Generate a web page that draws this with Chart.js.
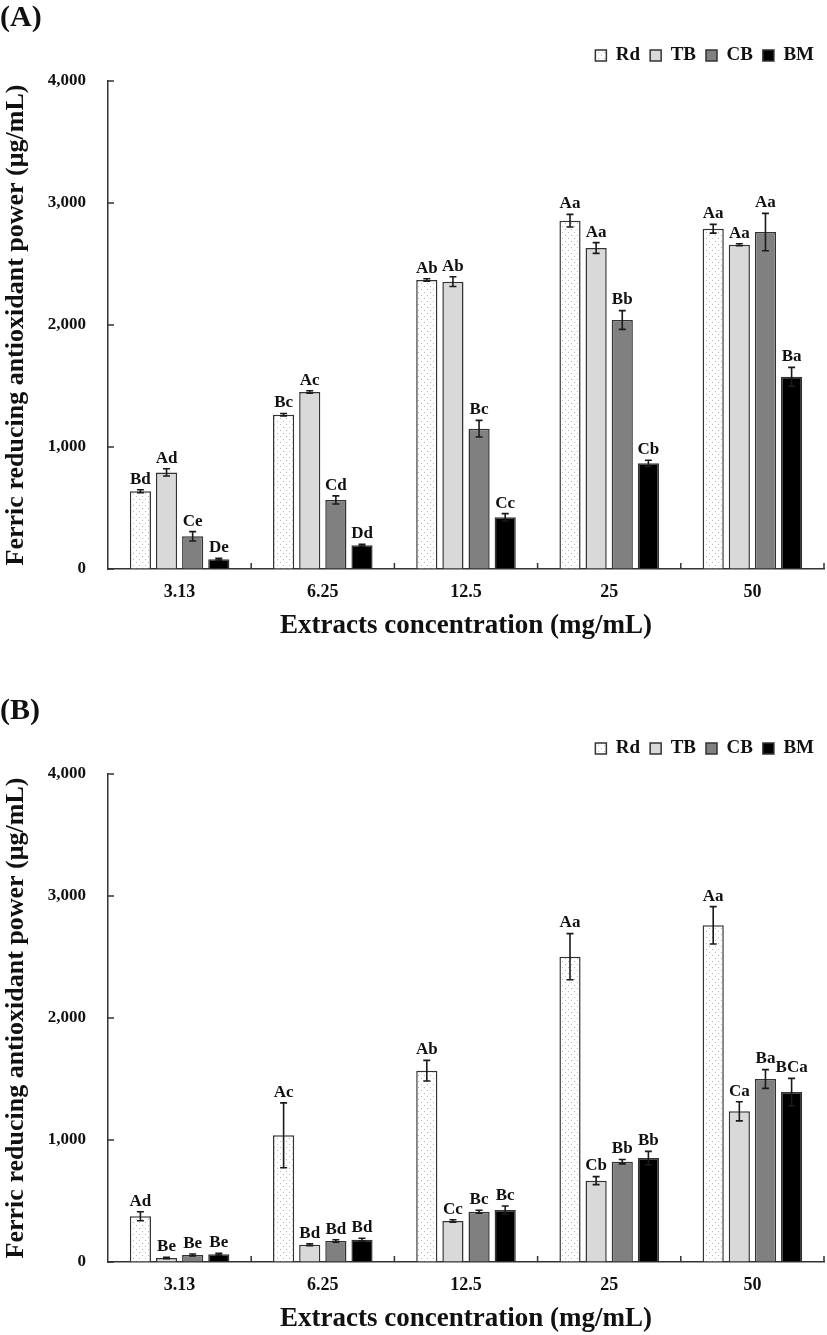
<!DOCTYPE html>
<html>
<head>
<meta charset="utf-8">
<script src="https://cdn.jsdelivr.net/npm/chart.js@4.4.1/dist/chart.umd.min.js"></script>
<style>
  html, body { margin: 0; padding: 0; background: #fff; }
  body { width: 827px; height: 1335px; position: relative; overflow: hidden; }
  .panel { position: absolute; left: 0; width: 827px; height: 642px; }
  #pA { top: 0; }
  #pB { top: 693px; }
</style>
</head>
<body>
<div class="panel" id="pA"><canvas id="cA" width="827" height="642"></canvas></div>
<div class="panel" id="pB"><canvas id="cB" width="827" height="642"></canvas></div>
<script>
// ---------- DATA ----------
const categories = ['3.13', '6.25', '12.5', '25', '50'];
const seriesNames = ['Rd', 'TB', 'CB', 'BM'];
const yTicks = [0, 1000, 2000, 3000, 4000];

// Panel (A)
const rdA = [637, 1265, 2369, 2855, 2789];
const tbA = [792, 1451, 2355, 2631, 2658];
const cbA = [268, 566, 1150, 2041, 2762];
const bmA = [79, 194, 424, 866, 1576];
const rdAerr = [12, 10, 10, 52, 36];
const tbAerr = [30, 10, 40, 44, 8];
const cbAerr = [38, 33, 68, 77, 153];
const bmAerr = [8, 8, 30, 25, 77];
const rdAlab = ['Bd', 'Bc', 'Ab', 'Aa', 'Aa'];
const tbAlab = ['Ad', 'Ac', 'Ab', 'Aa', 'Aa'];
const cbAlab = ['Ce', 'Cd', 'Bc', 'Bb', 'Aa'];
const bmAlab = ['De', 'Dd', 'Cc', 'Cb', 'Ba'];

// Panel (B)
const rdB = [375, 1038, 1568, 2503, 2760];
const tbB = [33, 142, 336, 667, 1235];
const cbB = [57, 172, 412, 822, 1500];
const bmB = [63, 183, 426, 852, 1393];
const rdBerr = [37, 266, 85, 189, 153];
const tbBerr = [6, 8, 10, 33, 78];
const cbBerr = [8, 10, 12, 18, 77];
const bmBerr = [8, 12, 33, 55, 112];
const rdBlab = ['Ad', 'Ac', 'Ab', 'Aa', 'Aa'];
const tbBlab = ['Be', 'Bd', 'Cc', 'Cb', 'Ca'];
const cbBlab = ['Be', 'Bd', 'Bc', 'Bb', 'Ba'];
const bmBlab = ['Be', 'Bd', 'Bc', 'Bb', 'BCa'];

// ---------- STYLE ----------
const FONT = "'Liberation Serif', 'Times New Roman', serif";
Chart.defaults.font.family = FONT;
Chart.defaults.color = '#111';

function dotPattern() {
  const c = document.createElement('canvas');
  c.width = 6; c.height = 6;
  const g = c.getContext('2d');
  g.fillStyle = '#ffffff';
  g.fillRect(0, 0, 6, 6);
  g.fillStyle = '#b8b8b8';
  g.fillRect(1, 1, 1, 1);
  g.fillRect(4, 4, 1, 1);
  return g.createPattern(c, 'repeat');
}
const fills = [dotPattern(), '#d9d9d9', '#808080', '#000000'];

// extra room below the legend
const legendGapPlugin = {
  id: 'legendGap',
  afterInit(chart) {
    const lg = chart.legend;
    if (lg && !lg._gapWrapped) {
      const orig = lg.fit;
      lg.fit = function () { orig.call(this); this.height += 6; };
      lg._gapWrapped = true;
    }
  }
};

const errLabelPlugin = {
  id: 'errLabel',
  afterDatasetsDraw(chart) {
    const ctx = chart.ctx;
    const ys = chart.scales.y;
    ctx.save();
    chart.data.datasets.forEach((ds, i) => {
      const meta = chart.getDatasetMeta(i);
      meta.data.forEach((bar, j) => {
        const v = ds.data[j], e = ds.err[j];
        const yT = ys.getPixelForValue(v + e);
        const yB = ys.getPixelForValue(Math.max(0, v - e));
        ctx.strokeStyle = '#1a1a1a';
        ctx.lineWidth = 1.6;
        ctx.beginPath();
        ctx.moveTo(bar.x, yT); ctx.lineTo(bar.x, yB);
        ctx.moveTo(bar.x - 3.5, yT); ctx.lineTo(bar.x + 3.5, yT);
        ctx.moveTo(bar.x - 3.5, yB); ctx.lineTo(bar.x + 3.5, yB);
        ctx.stroke();
        ctx.fillStyle = '#111';
        ctx.font = "bold 17px " + FONT;
        ctx.textAlign = 'center';
        ctx.textBaseline = 'bottom';
        ctx.fillText(ds.labelsTxt[j], bar.x, yT - 2);
      });
    });
    ctx.restore();
  }
};

const innerTicksPlugin = {
  id: 'innerTicks',
  afterDraw(chart) {
    const ctx = chart.ctx;
    const xs = chart.scales.x, ys = chart.scales.y;
    const a = chart.chartArea;
    ctx.save();
    ctx.strokeStyle = '#333';
    ctx.lineWidth = 1.5;
    ctx.beginPath();
    yTicks.forEach(t => {
      const y = ys.getPixelForValue(t);
      ctx.moveTo(a.left, y); ctx.lineTo(a.left + 6, y);
    });
    const half = (xs.getPixelForValue(1) - xs.getPixelForValue(0)) / 2;
    for (let i = 0; i < categories.length; i++) {
      const x = xs.getPixelForValue(i) + half;
      ctx.moveTo(x, a.bottom); ctx.lineTo(x, a.bottom - 6);
    }
    ctx.stroke();
    ctx.restore();
  }
};

function makeChart(id, title, vals, errs, labs) {
  const datasets = seriesNames.map((n, k) => ({
    label: n,
    data: vals[k],
    err: errs[k],
    labelsTxt: labs[k],
    backgroundColor: fills[k],
    borderColor: '#333333',
    borderWidth: 1.5,
    categoryPercentage: 0.73,
    barPercentage: 0.81
  }));
  return new Chart(document.getElementById(id), {
    type: 'bar',
    data: { labels: categories, datasets },
    plugins: [legendGapPlugin, errLabelPlugin, innerTicksPlugin],
    options: {
      responsive: false,
      animation: false,
      events: [],
      layout: { padding: { top: 0, right: 3, bottom: 0, left: 0 } },
      plugins: {
        tooltip: { enabled: false },
        title: {
          display: true, text: title, align: 'start',
          font: { size: 30, weight: 'bold', family: FONT },
          color: '#111',
          padding: { top: 0, bottom: 0 }
        },
        legend: {
          display: true, position: 'top', align: 'end',
          labels: {
            boxWidth: 11, boxHeight: 11, padding: 10,
            font: { size: 19, weight: 'bold', family: FONT },
            color: '#111'
          }
        }
      },
      scales: {
        x: {
          afterFit: s => { s.height = 73; },
          grid: { display: true, color: 'rgba(0,0,0,0)', drawTicks: false, drawOnChartArea: false },
          border: { display: true, color: '#333', width: 1.5 },
          ticks: { padding: 13, font: { size: 18, weight: 'bold', family: FONT }, color: '#111' },
          title: {
            display: true, text: 'Extracts concentration (mg/mL)',
            font: { size: 27, weight: 'bold', family: FONT }, color: '#111',
            padding: { top: 0, bottom: 0 }
          }
        },
        y: {
          min: 0, max: 4000,
          afterFit: s => { s.width = 108; },
          afterBuildTicks: s => { s.ticks = yTicks.map(v => ({ value: v })); },
          grid: { display: true, color: 'rgba(0,0,0,0)', drawTicks: false, drawOnChartArea: false },
          border: { display: true, color: '#333', width: 1.5 },
          ticks: {
            padding: 22,
            font: { size: 17, weight: 'bold', family: FONT }, color: '#111',
            callback: v => v.toLocaleString('en-US')
          },
          title: {
            display: true, text: 'Ferric reducing antioxidant power (μg/mL)',
            font: { size: 26, weight: 'bold', family: FONT }, color: '#111',
            padding: { top: 1, bottom: 0 }
          }
        }
      }
    }
  });
}

const chartA = makeChart('cA', '(A)', [rdA, tbA, cbA, bmA], [rdAerr, tbAerr, cbAerr, bmAerr], [rdAlab, tbAlab, cbAlab, bmAlab]);
const chartB = makeChart('cB', '(B)', [rdB, tbB, cbB, bmB], [rdBerr, tbBerr, cbBerr, bmBerr], [rdBlab, tbBlab, cbBlab, bmBlab]);
</script>
</body>
</html>
